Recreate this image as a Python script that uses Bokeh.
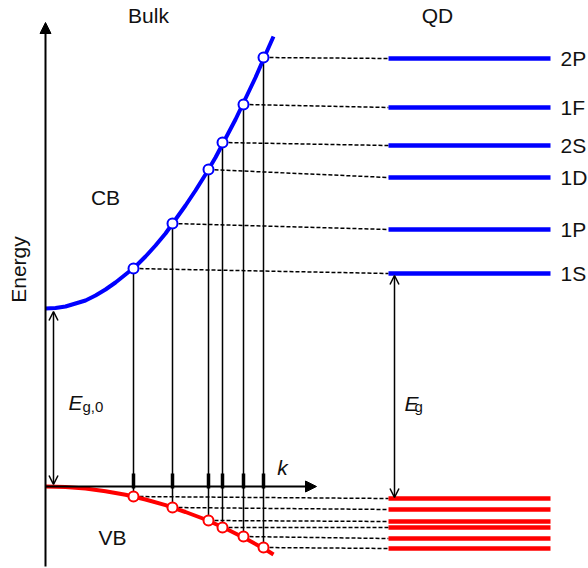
from bokeh.plotting import figure
from bokeh.models import Range1d, Arrow, NormalHead, OpenHead
from bokeh.core.properties import value
from bokeh.embed import file_html
from bokeh.resources import INLINE

# ---- data (k in arbitrary units, energy in arbitrary units; VB top = 0) ----
cb_k = [0, 10, 20, 30, 40, 50, 60, 70, 80, 90, 100, 110, 120, 130, 140, 150,
        160, 170, 180, 190, 200, 210, 220, 228]
cb_E = [178, 178.5, 180, 183, 186, 191, 197, 204, 212, 220, 230, 241, 253, 267,
        281, 296, 312, 329, 348, 367, 388, 409, 432, 450]
vb_k = [0, 20, 40, 60, 80, 100, 120, 140, 160, 180, 200, 220, 228]
vb_E = [0, -0.5, -2, -4.7, -8.3, -13, -18.7, -25.5, -33, -42, -52, -63, -68]

state_k = [88, 127, 163, 177, 198, 218]
cb_state_E = [218, 263, 317, 344, 382, 429]
vb_state_E = [-10, -21, -34, -41, -50, -61]

qd_labels = ["1S", "1P", "1D", "2S", "1F", "2P"]
qd_cb_E = [213, 257, 309, 341, 379, 428]
qd_vb_E = [-12, -23, -35, -41, -52, -62]
qd_k0, qd_k1 = 343, 505

Eg0 = 178

FONT = value("Liberation Sans")
TXT = "#111111"

p = figure(width=588, height=568, output_backend="svg", toolbar_location=None,
           x_range=Range1d(-45, 543), y_range=Range1d(-82, 486),
           min_border=0, outline_line_color=None)
p.axis.visible = False
p.grid.visible = False
p.background_fill_color = "white"

# vertical transitions from CB states down to VB states
p.multi_line([[k, k] for k in state_k],
             [[c, v] for c, v in zip(cb_state_E, vb_state_E)],
             line_color="black", line_width=1.5)
p.segment(x0=state_k, y0=[13] * 6, x1=state_k, y1=[-2] * 6,
          line_color="black", line_width=3.5)

# dashed connectors to QD levels
p.multi_line([[k, qd_k0] for k in state_k],
             [[c, q] for c, q in zip(cb_state_E, qd_cb_E)],
             line_color="black", line_width=1.5, line_dash="4 2")
p.multi_line([[k, qd_k0] for k in state_k],
             [[v, q] for v, q in zip(vb_state_E, qd_vb_E)],
             line_color="black", line_width=1.5, line_dash="4 2")

# axes
p.add_layout(Arrow(end=NormalHead(size=11, fill_color="black", line_color="black"),
                   x_start=0, y_start=-80, x_end=0, y_end=464,
                   line_width=2, line_color="black"))
p.add_layout(Arrow(end=NormalHead(size=11, fill_color="black", line_color="black"),
                   x_start=0, y_start=0, x_end=271, y_end=0,
                   line_width=2, line_color="black"))

# gap arrows
p.add_layout(Arrow(start=OpenHead(size=9, line_width=1.5), end=OpenHead(size=9, line_width=1.5),
                   x_start=8, y_start=2, x_end=8, y_end=Eg0 - 3,
                   line_width=1.5, line_color="black"))
p.add_layout(Arrow(start=OpenHead(size=9, line_width=1.5), end=OpenHead(size=9, line_width=1.5),
                   x_start=349, y_start=qd_vb_E[0] + 1, x_end=349, y_end=qd_cb_E[0] - 2,
                   line_width=1.5, line_color="black"))

# bands
p.line(cb_k, cb_E, line_color="#0000ff", line_width=4)
p.line(vb_k, vb_E, line_color="#ff0000", line_width=4)

# QD levels
p.segment(x0=[qd_k0] * 6, y0=qd_cb_E, x1=[qd_k1] * 6, y1=qd_cb_E,
          line_color="#0000ff", line_width=4.5)
p.segment(x0=[qd_k0] * 6, y0=qd_vb_E, x1=[qd_k1] * 6, y1=qd_vb_E,
          line_color="#ff0000", line_width=4.5)

# state markers
p.scatter(state_k, cb_state_E, size=10, fill_color="white",
          line_color="#0000ff", line_width=2)
p.scatter(state_k, vb_state_E, size=10, fill_color="white",
          line_color="#ff0000", line_width=2)

# texts
p.text(x=[515] * 6, y=qd_cb_E, text=qd_labels, text_font=FONT,
       text_font_size="21px", text_baseline="middle", text_align="left",
       text_color=TXT)
p.text(x=[103, 392], y=[471, 471], text=["Bulk", "QD"], text_font=FONT,
       text_font_size="21px", text_baseline="middle", text_align="center",
       text_color=TXT)
p.text(x=[60, 67], y=[289, -51], text=["CB", "VB"], text_font=FONT,
       text_font_size="21px", text_baseline="middle", text_align="center",
       text_color=TXT)
p.text(x=[-27], y=[217], text=["Energy"], angle=1.5708, text_font=FONT,
       text_font_size="21px", text_baseline="middle", text_align="center",
       text_color=TXT)
p.text(x=[237], y=[19], text=["k"], text_font=FONT, text_font_style="italic",
       text_font_size="21px", text_baseline="middle", text_align="center",
       text_color=TXT)
p.text(x=[23, 359], y=[84, 83], text=["E", "E"], text_font=FONT,
       text_font_style="italic", text_font_size="21px",
       text_baseline="alphabetic", text_align="left", text_color=TXT)
p.text(x=[37, 369], y=[80, 80], text=["g,0", "g"], text_font=FONT,
       text_font_size="15px", text_baseline="alphabetic", text_align="left",
       text_color=TXT)

open("out.html", "w").write(file_html(p, INLINE))
